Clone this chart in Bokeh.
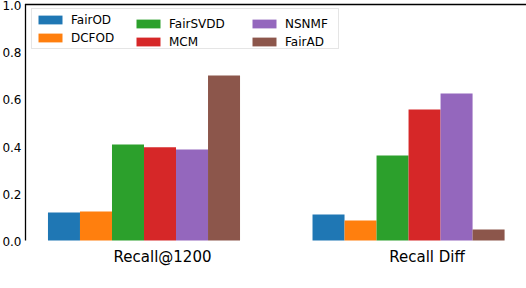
from bokeh.plotting import figure
from bokeh.models import Range1d, Legend, LegendItem
from bokeh.core.properties import value
from bokeh.embed import file_html
from bokeh.resources import INLINE

# ---- data ----
categories = ["Recall@1200", "Recall Diff"]
methods = ["FairOD", "DCFOD", "FairSVDD", "MCM", "NSNMF", "FairAD"]
recall_1200 = [0.119, 0.123, 0.407, 0.395, 0.386, 0.699]
recall_diff = [0.110, 0.085, 0.360, 0.555, 0.623, 0.047]
colors = ["#1f77b4", "#ff7f0e", "#2ca02c", "#d62728", "#9467bd", "#8c564b"]
y_ticks = [0.0, 0.2, 0.4, 0.6, 0.8, 1.0]
y_tick_labels = ["0.0", "0.2", "0.4", "0.6", "0.8", "1.0"]
caption = "Figure 1: Recall@1200 and absolute Recall difference"

# ---- layout (pixel geometry of the panel) ----
W, H = 526, 288
X0_PX, X_SCALE = 143.5, 264.55      # pixel of group 0 centre, pixels per group
Y0_PX, Y_SCALE = 240.0, 236.0       # pixel of value 0, pixels per unit

def px_x(px):
    return (px - X0_PX) / X_SCALE

def px_y(py):
    return (Y0_PX - py) / Y_SCALE

bar_w = 0.121
tick_offset = 0.07
group_x = list(range(len(categories)))
values = [list(v) for v in zip(recall_1200, recall_diff)]  # per method

p = figure(width=W, height=H, output_backend="svg", toolbar_location=None,
           x_range=Range1d(px_x(0), px_x(W)), y_range=Range1d(px_y(H), px_y(0)),
           x_axis_location=None, y_axis_location=None)
p.min_border = 0
p.outline_line_color = None
p.xgrid.visible = False
p.ygrid.visible = False
p.background_fill_color = "white"
p.border_fill_color = "white"

renderers = []
for i, (m, c) in enumerate(zip(methods, colors)):
    xs = [g + (i - 2.5) * bar_w for g in group_x]
    r = p.vbar(x=xs, top=values[i], width=bar_w, bottom=0,
               fill_color=c, line_color=None)
    renderers.append(r)

# spines: left and top
x_spine = px_x(25)
p.segment(x0=[x_spine], y0=[y_ticks[0]], x1=[x_spine], y1=[y_ticks[-1]],
          line_color="black", line_width=1.3)
p.segment(x0=[px_x(24.4)], y0=[y_ticks[-1]], x1=[px_x(W)], y1=[y_ticks[-1]],
          line_color="black", line_width=1.3)

# y tick labels
p.text(x=[px_x(21)] * len(y_ticks), y=y_ticks, text=y_tick_labels,
       text_font=value("DejaVu Sans"), text_font_size="12px", text_color="black",
       text_align="right", text_baseline="middle", y_offset=1)

# x tick labels
tick_pos = [g + tick_offset for g in group_x]
p.text(x=tick_pos, y=[px_y(256)] * len(tick_pos), text=categories,
       text_font=value("DejaVu Sans"), text_font_size="15px", text_color="black",
       text_align="center", text_baseline="alphabetic")

# caption (cut off by the bottom edge, as in the source); anchored inside the
# panel and pushed down with an offset so that only its top shows
p.text(x=[px_x(1)], y=[px_y(280)], text=[caption], y_offset=21.8,
       text_font=value("Liberation Serif"), text_font_size="28px", text_color="black",
       text_align="left", text_baseline="alphabetic")

# legends: one framed box + three columns
common = dict(label_text_font="DejaVu Sans", label_text_font_size="12px",
              label_text_color="black", glyph_width=30, glyph_height=11,
              label_standoff=6, padding=3, spacing=3, label_height=15,
              margin=0, orientation="vertical")
cols = [(0, 2, 31, 264, True), (2, 4, 133, 20, False), (4, 6, 249, 20, False)]
for a, b, lx, lw, framed in cols:
    items = [LegendItem(label=methods[k], renderers=[renderers[k]]) for k in range(a, b)]
    lg = Legend(items=items, location=(lx, 239), label_width=lw, **common)
    if framed:
        lg.border_line_color = "#cccccc"
        lg.border_line_width = 1
        lg.background_fill_color = "white"
        lg.background_fill_alpha = 0.8
    else:
        lg.border_line_color = None
        lg.background_fill_alpha = 0
    p.add_layout(lg)

open("out.html", "w").write(file_html(p, INLINE))
